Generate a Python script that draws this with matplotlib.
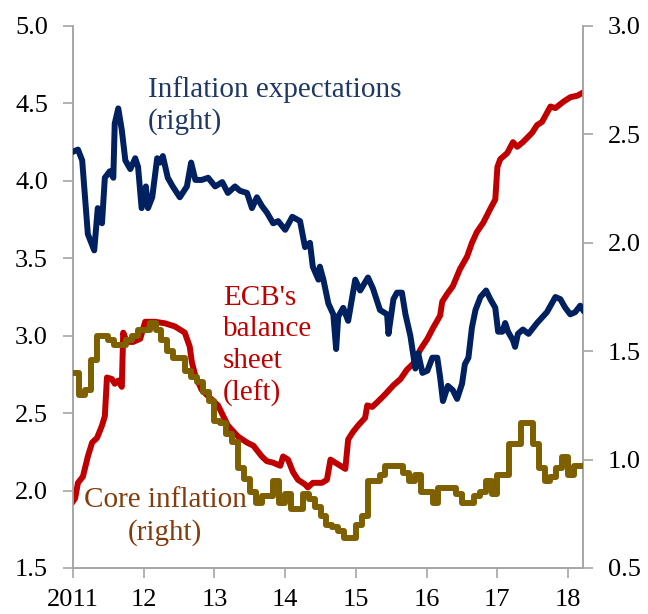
import matplotlib
matplotlib.use('Agg')
import matplotlib.pyplot as plt
import numpy as np

plt.rcParams['font.family'] = ['Liberation Serif', 'DejaVu Serif']

# ECB balance sheet (left axis)
ecb_x = [2011.00, 2011.03, 2011.07, 2011.14, 2011.21, 2011.27, 2011.34, 2011.41, 2011.45,
         2011.48, 2011.55, 2011.59, 2011.64, 2011.69, 2011.71, 2011.76, 2011.85, 2011.95,
         2012.02, 2012.16, 2012.30, 2012.44, 2012.58, 2012.65, 2012.68, 2012.73, 2012.82,
         2012.91, 2013.05, 2013.19, 2013.33, 2013.46, 2013.55, 2013.67, 2013.74, 2013.83,
         2013.93, 2013.97, 2014.04, 2014.11, 2014.18, 2014.28, 2014.32, 2014.39, 2014.52,
         2014.59, 2014.64, 2014.71, 2014.78, 2014.85, 2014.89, 2014.96, 2015.03, 2015.13,
         2015.16, 2015.23, 2015.30, 2015.41, 2015.53, 2015.63, 2015.72, 2015.81, 2015.91,
         2016.01, 2016.09, 2016.19, 2016.22, 2016.29, 2016.37, 2016.47, 2016.57, 2016.64,
         2016.71, 2016.80, 2016.90, 2016.97, 2017.00, 2017.04, 2017.14, 2017.22, 2017.28,
         2017.36, 2017.49, 2017.56, 2017.63, 2017.75, 2017.82, 2017.93, 2018.03, 2018.13,
         2018.21]
ecb = [1.93, 1.95, 2.05, 2.09, 2.22, 2.31, 2.34, 2.42, 2.48,
       2.73, 2.72, 2.69, 2.71, 2.67, 3.02, 2.96, 2.96, 2.98,
       3.09, 3.09, 3.08, 3.06, 3.02, 2.93, 2.83, 2.74, 2.65,
       2.61, 2.55, 2.42, 2.35, 2.31, 2.29, 2.22, 2.19, 2.18,
       2.16, 2.22, 2.20, 2.12, 2.07, 2.04, 2.02, 2.05, 2.05,
       2.07, 2.20, 2.18, 2.16, 2.14, 2.33, 2.38, 2.42, 2.47,
       2.55, 2.54, 2.57, 2.62, 2.68, 2.72, 2.78, 2.82, 2.91,
       2.98, 3.05, 3.13, 3.22, 3.27, 3.32, 3.43, 3.51, 3.60,
       3.67, 3.73, 3.82, 3.88, 4.09, 4.14, 4.18, 4.25, 4.22,
       4.25, 4.31, 4.36, 4.38, 4.48, 4.47, 4.51, 4.54, 4.55,
       4.57]

# inflation expectations (right axis)
exp_x = [2011.00, 2011.07, 2011.13, 2011.21, 2011.30, 2011.35, 2011.41, 2011.45, 2011.52,
         2011.57, 2011.59, 2011.64, 2011.69, 2011.74, 2011.81, 2011.88, 2011.92, 2011.97,
         2012.03, 2012.06, 2012.12, 2012.19, 2012.23, 2012.27, 2012.34, 2012.41, 2012.51,
         2012.61, 2012.67, 2012.73, 2012.82, 2012.91, 2013.01, 2013.11, 2013.19, 2013.29,
         2013.36, 2013.46, 2013.53, 2013.60, 2013.67, 2013.74, 2013.83, 2013.90, 2014.00,
         2014.10, 2014.21, 2014.28, 2014.35, 2014.39, 2014.47, 2014.49, 2014.54, 2014.61,
         2014.68, 2014.72, 2014.75, 2014.82, 2014.89, 2014.99, 2015.06, 2015.17, 2015.24,
         2015.34, 2015.44, 2015.46, 2015.53, 2015.58, 2015.65, 2015.70, 2015.77, 2015.84,
         2015.88, 2015.94, 2016.01, 2016.08, 2016.15, 2016.19, 2016.23, 2016.30, 2016.37,
         2016.43, 2016.50, 2016.54, 2016.59, 2016.64, 2016.69, 2016.76, 2016.84, 2016.90,
         2016.97, 2017.01, 2017.07, 2017.11, 2017.15, 2017.22, 2017.25, 2017.29, 2017.36,
         2017.44, 2017.56, 2017.70, 2017.82, 2017.89, 2017.96, 2018.03, 2018.10, 2018.17,
         2018.21]
expect = [2.42, 2.43, 2.38, 2.04, 1.965, 2.16, 2.09, 2.30, 2.33,
          2.30, 2.55, 2.62, 2.52, 2.38, 2.34, 2.39, 2.35, 2.16,
          2.26, 2.16, 2.21, 2.39, 2.37, 2.40, 2.30, 2.26, 2.21,
          2.26, 2.37, 2.29, 2.29, 2.30, 2.26, 2.28, 2.23, 2.26,
          2.24, 2.23, 2.16, 2.21, 2.17, 2.14, 2.09, 2.10, 2.06,
          2.12, 2.10, 1.98, 2.00, 1.89, 1.83, 1.89, 1.83, 1.72,
          1.67, 1.51, 1.66, 1.70, 1.64, 1.83, 1.78, 1.84, 1.79,
          1.69, 1.67, 1.58, 1.74, 1.77, 1.77, 1.67, 1.57, 1.42,
          1.49, 1.40, 1.41, 1.47, 1.47, 1.38, 1.27, 1.34, 1.32,
          1.28, 1.35, 1.44, 1.47, 1.61, 1.69, 1.75, 1.78, 1.74,
          1.70, 1.59, 1.59, 1.63, 1.59, 1.55, 1.52, 1.58, 1.60,
          1.58, 1.63, 1.68, 1.75, 1.74, 1.70, 1.67, 1.68, 1.71,
          1.69]

# core inflation, monthly from Jan 2011 (right axis)
core = [1.40, 1.30, 1.32, 1.46, 1.57, 1.57, 1.55, 1.53, 1.53, 1.55, 1.57, 1.60,
        1.60, 1.63, 1.60, 1.55, 1.50, 1.47, 1.47, 1.41, 1.38, 1.36, 1.31, 1.27,
        1.18, 1.17, 1.12, 1.08, 0.96, 0.91, 0.85, 0.80, 0.83, 0.83, 0.90, 0.80,
        0.84, 0.77, 0.77, 0.84, 0.82, 0.78, 0.74, 0.70, 0.69, 0.67, 0.64, 0.64,
        0.70, 0.74, 0.90, 0.90, 0.93, 0.97, 0.97, 0.97, 0.94, 0.90, 0.93, 0.85,
        0.85, 0.80, 0.87, 0.87, 0.87, 0.84, 0.80, 0.80, 0.83, 0.85, 0.90, 0.84,
        0.93, 0.93, 1.07, 1.07, 1.17, 1.17, 1.07, 0.96, 0.90, 0.92, 0.96, 1.01,
        0.93, 0.97, 0.97]
core_x = list(2011 + np.arange(len(core)) / 12) + [2018.21]
core = core + [core[-1]]

years = [2011, 2012, 2013, 2014, 2015, 2016, 2017, 2018]
year_labels = ['2011', '12', '13', '14', '15', '16', '17', '18']

navy = '#002060'
red = '#C00000'
olive = '#7F6000'
grey = '#A6A6A6'

fig = plt.figure(figsize=(6.48, 6.14), dpi=100)
ax = fig.add_axes([73 / 648, 1 - 568 / 614, 510 / 648, 542 / 614])
ax2 = ax.twinx()

ax.plot(ecb_x, ecb, color=red, lw=4.3, solid_joinstyle='round', zorder=3)
ax2.plot(core_x, core, color=olive, lw=4.3, drawstyle='steps-post', zorder=3)
ax2.plot(exp_x, expect, color=navy, lw=4.3, solid_joinstyle='round', zorder=4)

ax.set_xlim(2011, 2018.21)
ax.set_ylim(1.5, 5.0)
ax2.set_ylim(0.5, 3.0)
ax.set_xticks(years)
ax.set_xticklabels(year_labels)
ax.set_yticks(np.arange(1.5, 5.01, 0.5))
ax.set_yticklabels(['%.1f' % v for v in np.arange(1.5, 5.01, 0.5)])
ax2.set_yticks(np.arange(0.5, 3.01, 0.5))
ax2.set_yticklabels(['%.1f' % v for v in np.arange(0.5, 3.01, 0.5)])

for a in (ax, ax2):
    a.spines['top'].set_visible(False)
    for s in ('left', 'right', 'bottom'):
        a.spines[s].set_color(grey)
        a.spines[s].set_linewidth(1.2)
    a.tick_params(colors=grey, labelcolor='black', labelsize=19, length=7, width=1.2)
ax.tick_params(axis='y', pad=11)
ax2.tick_params(axis='y', pad=11)
ax.tick_params(axis='x', pad=8)

fig.text(148 / 648, 1 - 76 / 614, 'Inflation expectations\n(right)', color='#1F3864',
         fontsize=21, ha='left', va='top', linespacing=1.25)
fig.text(223 / 648, 1 - 285 / 614, "ECB's\nbalance\nsheet\n(left)", color=red,
         fontsize=21, ha='left', va='top', linespacing=1.27)
fig.text(165 / 648, 1 - 487 / 614, 'Core inflation\n(right)', color='#843C0C',
         fontsize=21, ha='center', va='top', multialignment='center', linespacing=1.3)

fig.savefig('out.png', dpi=100)
